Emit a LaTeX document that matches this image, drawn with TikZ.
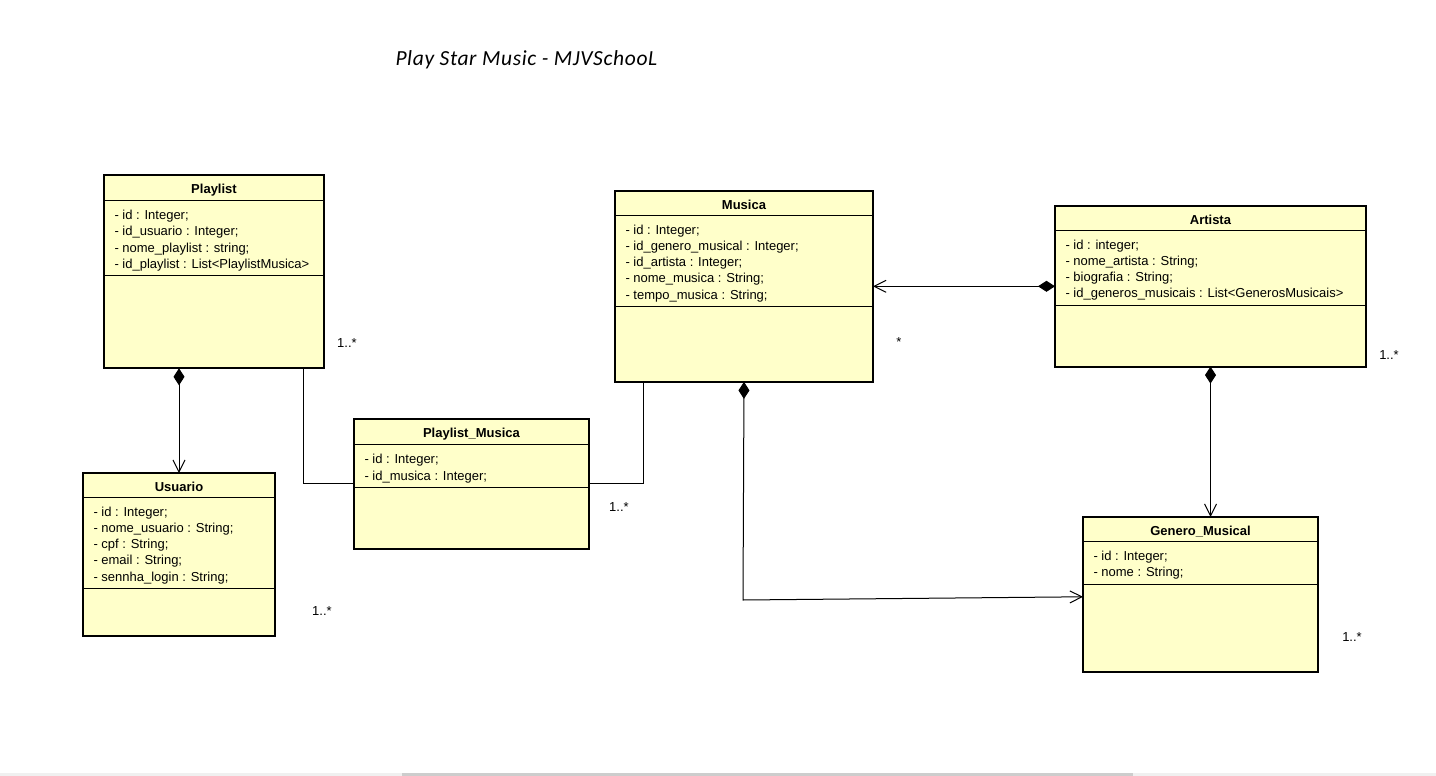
\documentclass[tikz,border=0pt]{standalone}
\usepackage{fontspec}
\setmainfont{Liberation Sans}
\newfontfamily\titlefont[LetterSpace=3]{Carlito}
\usetikzlibrary{shapes.multipart,arrows.meta}
\definecolor{umlyellow}{RGB}{255,255,202}
\definecolor{scrolltrack}{RGB}{240,240,240}
\definecolor{scrollthumb}{RGB}{205,205,205}
\newcommand{\umlhead}[1]{\rule[-1pt]{0pt}{14.5pt}\textbf{#1}}
\newcommand{\attrtop}{\rule{0pt}{14.5pt}}
\newcommand{\attrend}{\rule[-2pt]{0pt}{2pt}}

\begin{document}
\begin{tikzpicture}[x=1pt, y=-1pt, line width=1pt,
  umlclass/.style={rectangle split, rectangle split parts=3, draw=black, fill=umlyellow, anchor=north west,
    rectangle split part align={center,left,left}, align=left, inner xsep=10pt, inner ysep=4pt,
    rectangle split empty part depth=0pt, font=\fontsize{13}{16.3}\selectfont},
  mult/.style={font=\fontsize{13}{14}\selectfont, inner sep=0pt},
  comp/.style={{Diamond[length=17pt,width=11pt]}-{Straight Barb[length=12pt,width=12pt]}}]
    \useasboundingbox (0,0) rectangle (1436,776);
    \node[font=\titlefont\itshape\fontsize{21.5}{24}\selectfont, anchor=base west, inner sep=0pt] (title) at (395,66) {Play Star Music - MJVSchooL};
    \node[umlclass, minimum width=219pt, rectangle split empty part height=83pt] (pl) at (104,175) {\umlhead{Playlist}
        \nodepart{two}\attrtop- id : Integer;\\- id\_usuario : Integer;\\- nome\_playlist : string;\\- id\_playlist : List<PlaylistMusica>\attrend
        \nodepart{three}};
    \node[umlclass, minimum width=257pt, rectangle split empty part height=66pt] (mu) at (615,191) {\umlhead{Musica}
        \nodepart{two}\attrtop- id : Integer;\\- id\_genero\_musical : Integer;\\- id\_artista : Integer;\\- nome\_musica : String;\\- tempo\_musica : String;\attrend
        \nodepart{three}};
    \node[umlclass, minimum width=310pt, rectangle split empty part height=52pt] (ar) at (1055,206) {\umlhead{Artista}
        \nodepart{two}\attrtop- id : integer;\\- nome\_artista : String;\\- biografia : String;\\- id\_generos\_musicais : List<GenerosMusicais>\attrend
        \nodepart{three}};
    \node[umlclass, minimum width=234pt, rectangle split empty part height=52pt] (pm) at (354,419) {\umlhead{Playlist\_Musica}
        \nodepart{two}\attrtop- id : Integer;\\- id\_musica : Integer;\attrend
        \nodepart{three}};
    \node[umlclass, minimum width=191pt, rectangle split empty part height=38pt] (us) at (83,473) {\umlhead{Usuario}
        \nodepart{two}\attrtop- id : Integer;\\- nome\_usuario : String;\\- cpf : String;\\- email : String;\\- sennha\_login : String;\attrend
        \nodepart{three}};
    \node[umlclass, minimum width=234pt, rectangle split empty part height=78pt] (ge) at (1083,517) {\umlhead{Genero\_Musical}
        \nodepart{two}\attrtop- id : Integer;\\- nome : String;\attrend
        \nodepart{three}};
    \foreach \c in {pl,mu,ar,pm,us,ge}
        \draw[line width=2pt] (\c.north west) rectangle (\c.south east);
    % associations
    \draw[comp] (pl.south -| us.north) -- (us.north);
    \draw ([xshift=-21pt]pl.south east) |- (pm.west);
    \draw ([xshift=28pt]mu.south west) |- (pm.east);
    \draw[comp] (ar.west) -- (ar.west -| mu.east);
    \draw[comp] (ar.south) -- (ar.south |- ge.north);
    \coordinate (mubend) at (743,600);
    \draw[comp] (mu.south) -- (mubend) -- ([yshift=-2.5pt]ge.west);
    % multiplicities
    \node[mult] (m1) at (347,343) {1..*};
    \node[mult] (m2) at (899,342) {*};
    \node[mult] (m3) at (1389,355) {1..*};
    \node[mult] (m4) at (619,507) {1..*};
    \node[mult] (m5) at (322,611) {1..*};
    \node[mult] (m6) at (1352,637) {1..*};
    % scroll bar
    \fill[scrolltrack] (0,773) rectangle (1436,776);
    \fill[scrollthumb] (402,773) rectangle (1133,776);
\end{tikzpicture}
\end{document}
